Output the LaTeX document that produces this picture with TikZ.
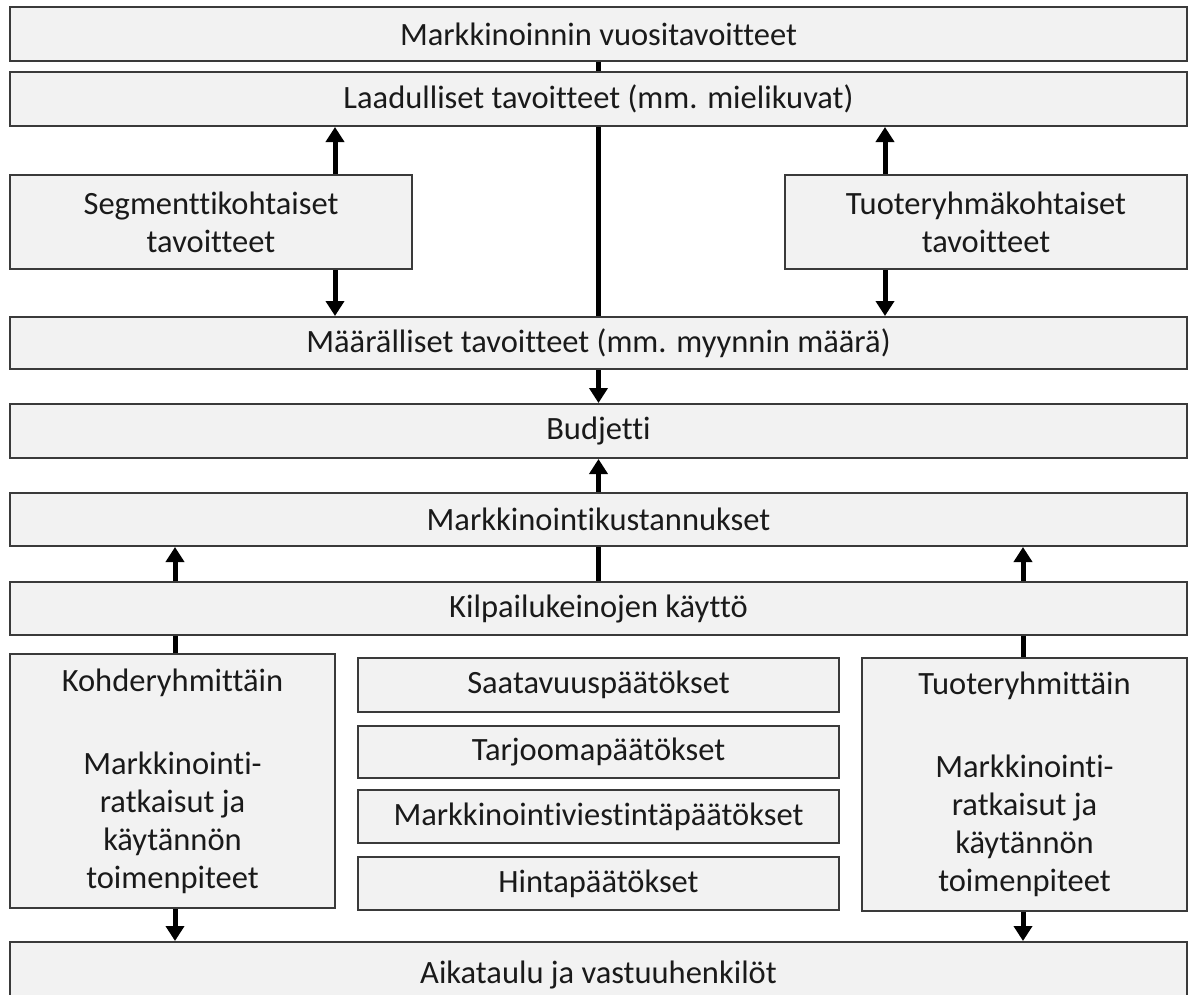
\documentclass[tikz,border=0pt]{standalone}
\usepackage{fontspec}
\setmainfont{Carlito}[Ligatures={NoCommon}]
\usetikzlibrary{arrows.meta}
\definecolor{boxfill}{HTML}{F2F2F2}
\definecolor{boxline}{HTML}{3A3A3A}
\definecolor{txt}{HTML}{1A1A1A}
\begin{document}
\begin{tikzpicture}[x=1pt,y=-1pt,
  box/.style={draw=boxline, line width=2pt, fill=boxfill, inner sep=0pt,
    align=center, text=txt, font=\fontsize{32.5}{38}\selectfont},
  wide/.style={box, minimum width=1177pt, minimum height=54pt},
  mid/.style={box, minimum width=481pt, minimum height=53pt},
  arr/.style={line width=5pt, -{Triangle[width=18pt,length=15pt]}},
  link/.style={line width=5pt}]
\useasboundingbox (0,0) rectangle (1192,994);

% main column of wide boxes
\node[wide] (vuosi) at (598.5,34) {Markkinoinnin vuositavoitteet};
\node[wide] (laad)  at (598.5,99) {Laadulliset tavoitteet (mm. mielikuvat)};
\node[wide, minimum height=52pt] (maar) at (598.5,343) {Määrälliset tavoitteet (mm. myynnin määrä)};
\node[wide] (budj)  at (598.5,431) {Budjetti};
\node[wide, minimum height=53pt] (kust) at (598.5,519.5) {Markkinointikustannukset};
\node[wide, minimum height=53pt] (kilp) at (598.5,608.5) {Kilpailukeinojen käyttö};
\node[wide, minimum height=66pt] (aika) at (598.5,975) {Aikataulu ja vastuuhenkilöt};

% side boxes between the goal rows
\node[box, minimum width=402pt, minimum height=94pt] (seg)  at (211,222) {Segmenttikohtaiset\\tavoitteet};
\node[box, minimum width=402pt, minimum height=94pt] (tuot) at (986,222) {Tuoteryhmäkohtaiset\\tavoitteet};

% lower row
\node[box, minimum width=325pt, minimum height=254pt] (kohde) at (172.5,781)
  {Kohderyhmittäin\\[45pt]Markkinointi-\\ratkaisut ja\\käytännön\\toimenpiteet};
\node[box, minimum width=325pt, minimum height=253pt] (tuotr) at (1024.5,784.5)
  {Tuoteryhmittäin\\[45pt]Markkinointi-\\ratkaisut ja\\käytännön\\toimenpiteet};
\node[mid, minimum height=54pt] (saat) at (598.5,685) {Saatavuuspäätökset};
\node[mid, minimum height=52pt] (tarj) at (598.5,752) {Tarjoomapäätökset};
\node[mid] (viest) at (598.5,816.5) {Markkinointiviestintäpäätökset};
\node[mid] (hinta) at (598.5,883.5) {Hintapäätökset};

% x positions of the side connectors
\coordinate (xl) at (175,0);
\coordinate (xsl) at (335,0);
\coordinate (xsr) at (885,0);
\coordinate (xr) at (1023,0);

% centre spine
\draw[link] (vuosi.south) -- (laad.north);
\draw[link] (laad.south) -- (maar.north);
\draw[arr] (maar.south) -- (budj.north);
\draw[arr] (kust.north) -- (budj.south);
\draw[link] (kilp.north) -- (kust.south);

% segment and product-group goals
\draw[arr] (seg.north -| xsl) -- (laad.south -| xsl);
\draw[arr] (seg.south -| xsl) -- (maar.north -| xsl);
\draw[arr] (tuot.north -| xsr) -- (laad.south -| xsr);
\draw[arr] (tuot.south -| xsr) -- (maar.north -| xsr);

% competitive means to costs
\draw[arr] (kilp.north -| xl) -- (kust.south -| xl);
\draw[arr] (kilp.north -| xr) -- (kust.south -| xr);
\draw[link] (kohde.north -| xl) -- (kilp.south -| xl);
\draw[link] (tuotr.north -| xr) -- (kilp.south -| xr);

% to the schedule
\draw[arr] (kohde.south -| xl) -- (aika.north -| xl);
\draw[arr] (tuotr.south -| xr) -- (aika.north -| xr);
\end{tikzpicture}
\end{document}
